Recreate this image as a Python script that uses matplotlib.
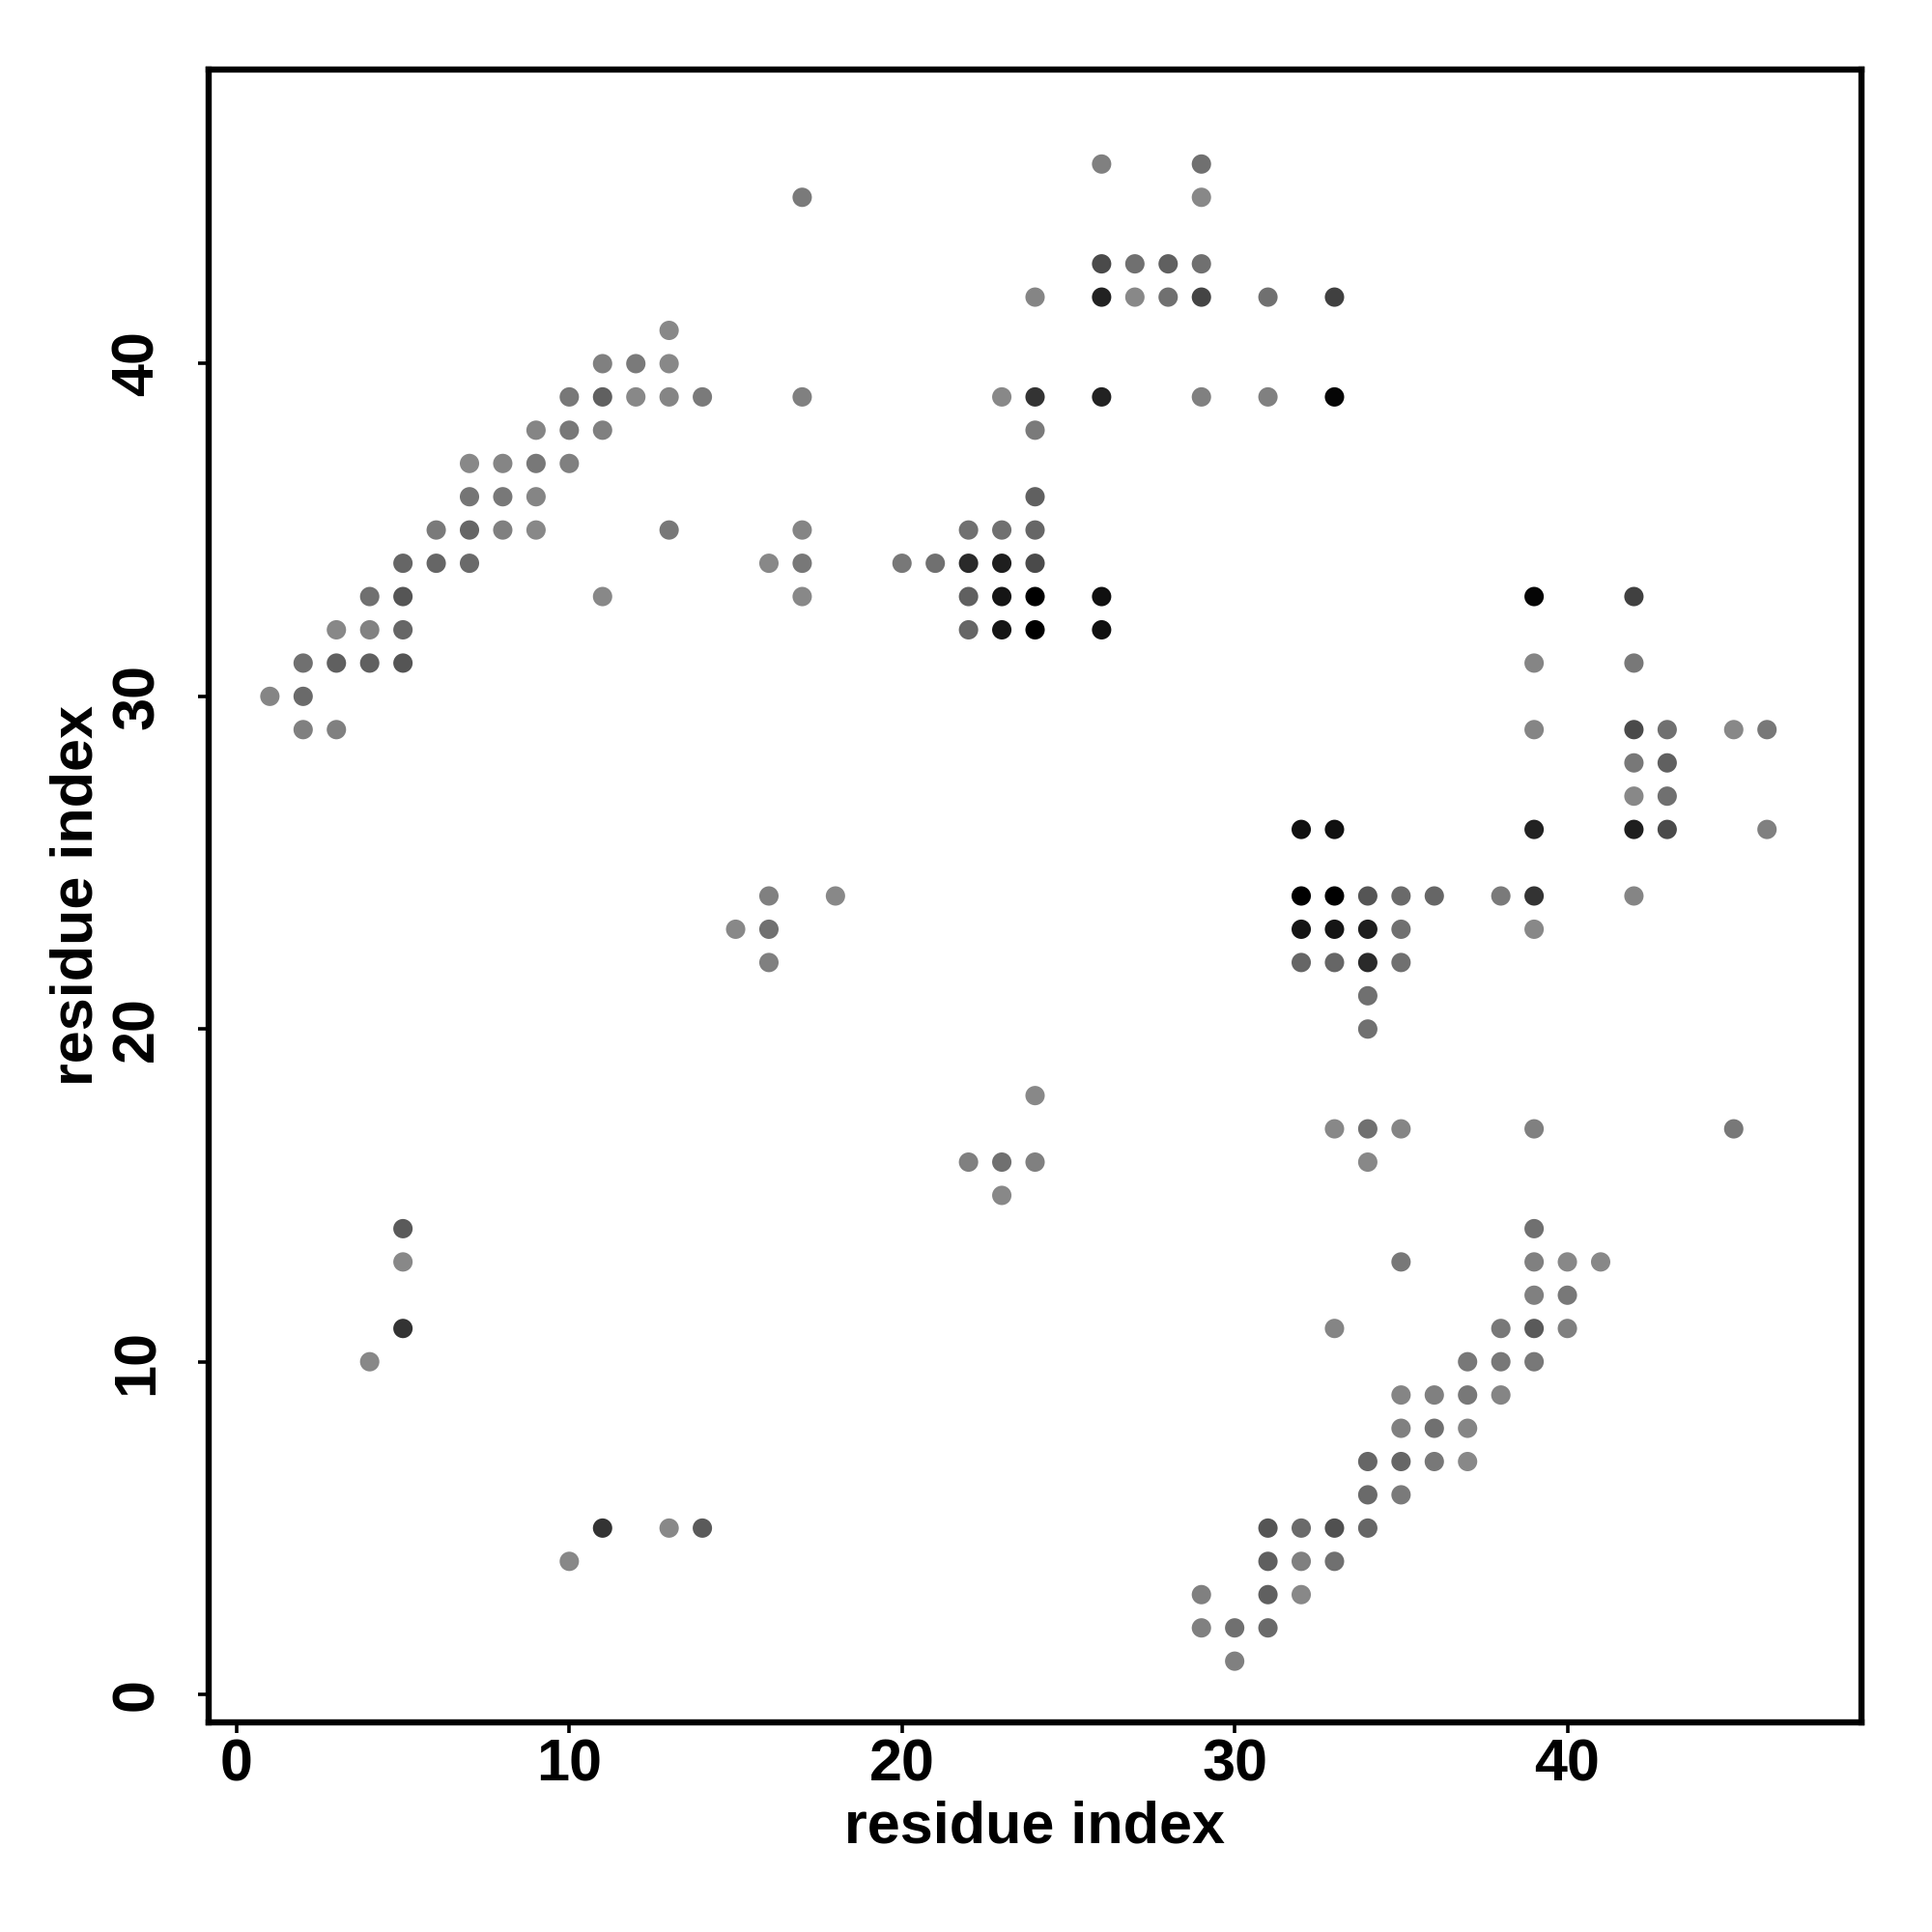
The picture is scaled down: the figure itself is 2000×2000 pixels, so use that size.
import matplotlib
matplotlib.use("Agg")
import matplotlib.pyplot as plt

# contact points: residue i (x), residue j (y), grey level (0=black, 255=white)
x_res = [26, 29,
         17, 29,
         26, 27, 28, 29,
         24, 26, 27, 28, 29, 31, 33,
         13,
         11, 12, 13,
         10, 11, 12, 13, 14, 17, 23, 24, 26, 29, 31, 33,
         9, 10, 11, 24,
         7, 8, 9, 10,
         7, 8, 9, 24,
         6, 7, 8, 9, 13, 17, 22, 23, 24,
         5, 6, 7, 16, 17, 20, 21, 22, 23, 24,
         4, 5, 11, 17, 22, 23, 24, 26, 39, 42,
         3, 4, 5, 22, 23, 24, 26,
         2, 3, 4, 5, 39, 42,
         1, 2,
         2, 3, 39, 42, 43, 45, 46,
         42, 43,
         42, 43,
         32, 33, 39, 42, 43, 46,
         16, 18, 32, 33, 34, 35, 36, 38, 39, 42,
         15, 16, 32, 33, 34, 35, 39,
         16, 32, 33, 34, 35,
         34,
         34,
         24,
         33, 34, 35, 39, 45,
         22, 23, 24, 34,
         23,
         5, 39,
         5, 35, 39, 40, 41,
         39, 40,
         5, 33, 38, 39, 40,
         4, 37, 38, 39,
         35, 36, 37, 38,
         35, 36, 37,
         34, 35, 36, 37,
         34, 35,
         11, 13, 14, 31, 32, 33, 34,
         10, 31, 32, 33,
         29, 31, 32,
         29, 30, 31,
         30]
y_res = [46, 46,
         45, 45,
         43, 43, 43, 43,
         42, 42, 42, 42, 42, 42, 42,
         41,
         40, 40, 40,
         39, 39, 39, 39, 39, 39, 39, 39, 39, 39, 39, 39,
         38, 38, 38, 38,
         37, 37, 37, 37,
         36, 36, 36, 36,
         35, 35, 35, 35, 35, 35, 35, 35, 35,
         34, 34, 34, 34, 34, 34, 34, 34, 34, 34,
         33, 33, 33, 33, 33, 33, 33, 33, 33, 33,
         32, 32, 32, 32, 32, 32, 32,
         31, 31, 31, 31, 31, 31,
         30, 30,
         29, 29, 29, 29, 29, 29, 29,
         28, 28,
         27, 27,
         26, 26, 26, 26, 26, 26,
         24, 24, 24, 24, 24, 24, 24, 24, 24, 24,
         23, 23, 23, 23, 23, 23, 23,
         22, 22, 22, 22, 22,
         21,
         20,
         18,
         17, 17, 17, 17, 17,
         16, 16, 16, 16,
         15,
         14, 14,
         13, 13, 13, 13, 13,
         12, 12,
         11, 11, 11, 11, 11,
         10, 10, 10, 10,
         9, 9, 9, 9,
         8, 8, 8,
         7, 7, 7, 7,
         6, 6,
         5, 5, 5, 5, 5, 5, 5,
         4, 4, 4, 4,
         3, 3, 3,
         2, 2, 2,
         1]
grey = [0x80, 0x70,
        0x7a, 0x88,
        0x4a, 0x70, 0x60, 0x70,
        0x85, 0x22, 0x88, 0x70, 0x44, 0x70, 0x40,
        0x88,
        0x80, 0x7a, 0x88,
        0x78, 0x60, 0x88, 0x85, 0x7a, 0x80, 0x88, 0x33, 0x22, 0x80, 0x80, 0x05,
        0x85, 0x78, 0x80, 0x7a,
        0x88, 0x85, 0x78, 0x80,
        0x75, 0x78, 0x85, 0x60,
        0x7a, 0x66, 0x80, 0x88, 0x78, 0x85, 0x70, 0x70, 0x66,
        0x66, 0x66, 0x6a, 0x88, 0x78, 0x78, 0x70, 0x2a, 0x1e, 0x4a,
        0x70, 0x55, 0x88, 0x88, 0x60, 0x15, 0x00, 0x10, 0x05, 0x40,
        0x88, 0x82, 0x66, 0x66, 0x15, 0x00, 0x10,
        0x70, 0x60, 0x60, 0x55, 0x85, 0x78,
        0x85, 0x6a,
        0x80, 0x80, 0x85, 0x4a, 0x70, 0x88, 0x78,
        0x78, 0x60,
        0x88, 0x70,
        0x10, 0x10, 0x22, 0x1e, 0x4a, 0x80,
        0x80, 0x88, 0x00, 0x00, 0x55, 0x6a, 0x66, 0x7a, 0x33, 0x85,
        0x88, 0x70, 0x15, 0x15, 0x1e, 0x70, 0x88,
        0x80, 0x66, 0x66, 0x2a, 0x70,
        0x70,
        0x70,
        0x88,
        0x88, 0x70, 0x85, 0x80, 0x78,
        0x80, 0x70, 0x80, 0x88,
        0x88,
        0x5a, 0x70,
        0x88, 0x78, 0x80, 0x88, 0x88,
        0x80, 0x78,
        0x33, 0x85, 0x78, 0x5a, 0x80,
        0x88, 0x78, 0x78, 0x78,
        0x85, 0x80, 0x78, 0x85,
        0x80, 0x70, 0x85,
        0x66, 0x66, 0x78, 0x88,
        0x6a, 0x7a,
        0x33, 0x88, 0x5a, 0x55, 0x6a, 0x50, 0x66,
        0x88, 0x5f, 0x80, 0x70,
        0x80, 0x60, 0x88,
        0x80, 0x70, 0x6a,
        0x80]

x_ticks = [0, 10, 20, 30, 40]
y_ticks = [0, 10, 20, 30, 40]
x_label = "residue index"
y_label = "residue index"

plt.rcParams['font.family'] = ['Liberation Sans', 'DejaVu Sans']
plt.rcParams['font.weight'] = 'bold'

fig = plt.figure(figsize=(10, 10), dpi=200)
ax = fig.add_axes([0.108, 0.1085, 0.8555, 0.8555])

colors = [(g / 255.0, g / 255.0, g / 255.0) for g in grey]
ax.scatter(x_res, y_res, c=colors, s=52, linewidths=0, zorder=3)

ax.set_xlim(-0.84, 48.84)
ax.set_ylim(-0.84, 48.84)
ax.set_xticks(x_ticks)
ax.set_yticks(y_ticks)
ax.set_xticklabels([str(t) for t in x_ticks], fontsize=22, fontweight='bold')
ax.set_yticklabels([str(t) for t in y_ticks], fontsize=22, fontweight='bold',
                   rotation=90, va='center')
ax.tick_params(axis='x', length=4, width=1.3, pad=2)
ax.tick_params(axis='y', length=4, width=1.3, pad=12)
for sp in ax.spines.values():
    sp.set_linewidth(2.3)

ax.set_xlabel(x_label, fontsize=22, fontweight='bold')
ax.set_ylabel(y_label, fontsize=22, fontweight='bold')
ax.xaxis.set_label_coords(0.5, -0.0637)
ax.xaxis.label.set_va('center')
ax.yaxis.set_label_coords(-0.0792, 0.5)
ax.yaxis.label.set_va('center')

fig.savefig("out.png", dpi=200, facecolor='white')
